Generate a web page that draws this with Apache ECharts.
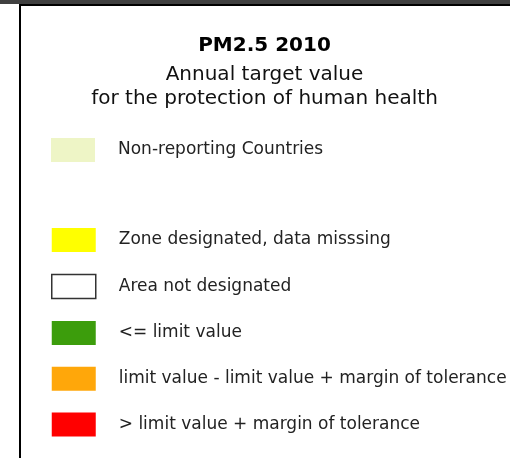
<!DOCTYPE html>
<html>
<head>
<meta charset="utf-8">
<script src="https://cdn.jsdelivr.net/npm/echarts@6/dist/echarts.min.js"></script>
<style>
  html, body { margin: 0; padding: 0; background: #fff; width: 510px; height: 458px; overflow: hidden; }
  #topband { position: absolute; left: 0; top: 0; width: 510px; height: 4px; background: #404040; }
  #frame { position: absolute; left: 19px; top: 4px; width: 491px; height: 454px; border-left: 2px solid #000; border-top: 2px solid #000; box-sizing: border-box; }
  #chart { position: absolute; left: 19px; top: 4px; width: 491px; height: 454px; }
</style>
</head>
<body>
<div id="topband"></div>
<div id="chart"></div>
<div id="frame"></div>
<script>
// legend content
const titleText = 'PM2.5 2010';
const subtitleLines = ['Annual target value', 'for the protection of human health'];
const nonReporting = ['Non-reporting Countries'];
const classes = [
  'Zone designated, data misssing',
  'Area not designated',
  '<= limit value',
  'limit value - limit value + margin of tolerance',
  '> limit value + margin of tolerance'
];
const classColors = ['#ffff00', '#ffffff', '#3c9d0c', '#ffa70a', '#ff0000'];
const nonReportingColor = '#eef5c6';

const chart = echarts.init(document.getElementById('chart'));

const allNames = nonReporting.concat(classes);
const allColors = [nonReportingColor].concat(classColors);

const series = allNames.map((name, i) => ({
  name: name,
  type: 'bar',
  data: [],
  itemStyle: name === 'Area not designated'
    ? { color: '#fff', borderColor: '#333', borderWidth: 1.5 }
    : { color: allColors[i] }
}));

const legendText = {
  fontFamily: 'DejaVu Sans',
  fontSize: 17,
  color: '#222',
  padding: [0, 0, 0, 18]
};

const legendData = (names) => names.map(n => n === 'Area not designated'
  ? { name: n, itemStyle: { color: '#fff', borderColor: '#333', borderWidth: 1.5 } }
  : { name: n });

chart.setOption({
  animation: false,
  title: {
    text: titleText,
    subtext: subtitleLines.join('\n'),
    left: 'center',
    top: 32,
    padding: 0,
    itemGap: 7,
    textStyle: { fontFamily: 'DejaVu Sans', fontSize: 20, fontWeight: 'bold', color: '#000' },
    subtextStyle: { fontFamily: 'DejaVu Sans', fontSize: 20, color: '#111', lineHeight: 24, align: 'center' }
  },
  legend: [
    {
      orient: 'vertical',
      left: 32,
      top: 134,
      padding: 0,
      icon: 'rect',
      itemWidth: 44,
      itemHeight: 24,
      selectedMode: false,
      textStyle: legendText,
      data: legendData(nonReporting)
    },
    {
      orient: 'vertical',
      left: 32,
      top: 224,
      padding: 0,
      icon: 'rect',
      itemWidth: 44,
      itemHeight: 24,
      itemGap: 21.75,
      selectedMode: false,
      textStyle: legendText,
      data: legendData(classes)
    }
  ],
  grid: { show: false, left: 0, top: 0, width: 1, height: 1 },
  xAxis: { show: false, type: 'category', data: [] },
  yAxis: { show: false, type: 'value' },
  series: series
});
</script>
</body>
</html>
